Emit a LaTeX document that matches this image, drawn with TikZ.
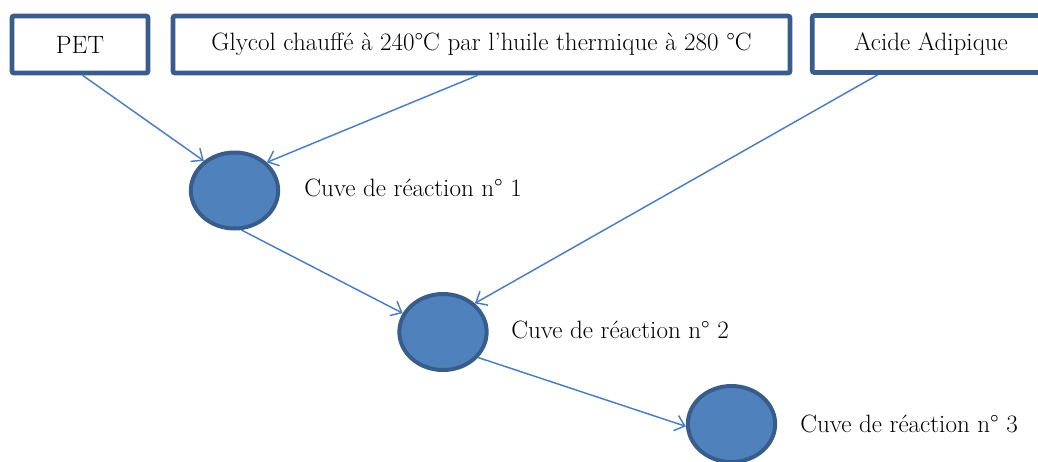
\documentclass[tikz,border=0pt]{standalone}
\usetikzlibrary{arrows.meta,shapes.geometric}

\definecolor{boxline}{RGB}{56,93,138}
\definecolor{cuvefill}{RGB}{79,129,189}
\definecolor{flow}{RGB}{74,126,193}

\tikzset{
  matiere/.style={draw=boxline,line width=3.6pt,rounded corners=1.5pt,fill=white,
    minimum height=42.75pt,inner sep=0pt,font=\fontsize{18.8}{22}\selectfont},
  cuve/.style={ellipse,draw=boxline,line width=3pt,fill=cuvefill,
    minimum width=65.5pt,minimum height=57pt,inner sep=0pt},
  legende/.style={anchor=west,inner sep=0pt,font=\fontsize{18.8}{22}\selectfont},
  flux/.style={draw=flow,line width=1.1pt,-{Straight Barb[length=7pt,width=12pt,line width=1.1pt]}}
}

\begin{document}
\begin{tikzpicture}[x=0.75pt,y=0.75pt,yscale=-1,xscale=1]
\useasboundingbox (0,0) rectangle (1038,461);

%Shape: Rectangle [PET]
\node (pet) [matiere,minimum width=102pt] at (80,44.5) {PET};
%Shape: Rectangle [glycol]
\node (glycol) [matiere,minimum width=462.75pt] at (481.5,44.5) {Glycol chauffé à 240°C par l’huile thermique à 280 °C};
%Shape: Rectangle [acide]
\node (acide) [matiere,minimum width=178pt] at (931,44) {Acide Adipique};

%Shape: Ellipse [cuve 1]
\node (cuve1) [cuve] at (234.5,190.5) {};
%Shape: Ellipse [cuve 2]
\node (cuve2) [cuve] at (443,332) {};
%Shape: Ellipse [cuve 3]
\node (cuve3) [cuve] at (731.5,424) {};

% Text Node
\node (lab1) [legende] at (304,188) {Cuve de réaction n° 1};
% Text Node
\node (lab2) [legende] at (511,330) {Cuve de réaction n° 2};
% Text Node
\node (lab3) [legende] at (800,424) {Cuve de réaction n° 3};

%Straight Lines
\draw [flux] ([xshift=2pt]pet.south) -- (cuve1.136);
\draw [flux] ([xshift=-3pt]glycol.south) -- (cuve1.41);
\draw [flux] ([xshift=-40pt]acide.south) -- (cuve2.42);
\draw [flux] (cuve1.-80) -- (cuve2.155);
\draw [flux] (cuve2.-36) -- (cuve3.183);

\end{tikzpicture}
\end{document}
